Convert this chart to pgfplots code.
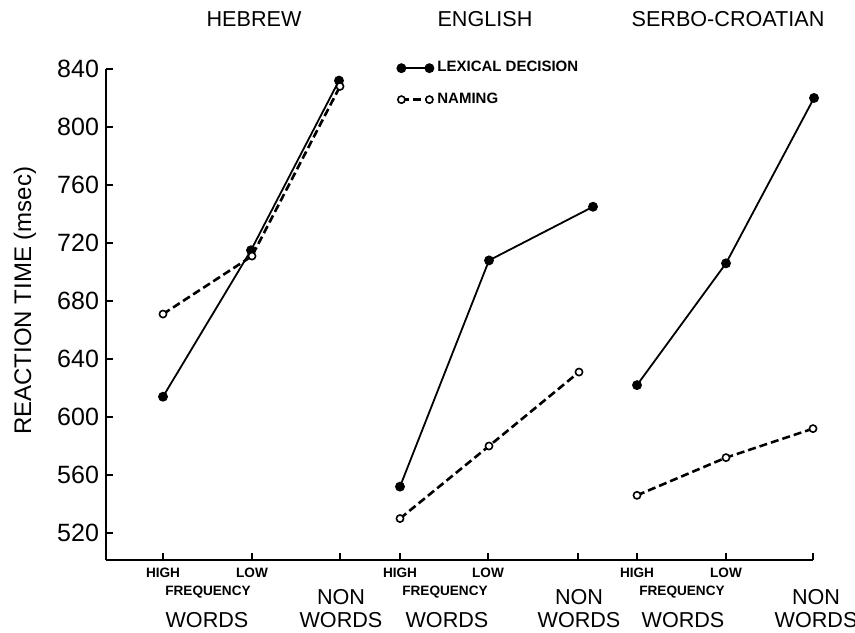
\documentclass[border=0pt]{standalone}
\usepackage{fontspec}
\setmainfont{Liberation Sans}
\usepackage{pgfplots}
\pgfplotsset{compat=1.18}
\usetikzlibrary{calc}
\begin{document}
\begin{tikzpicture}
\begin{axis}[
  name=ax,
  scale only axis, width=353.5pt, height=245.5pt,
  xmin=106, xmax=813, ymin=501.4, ymax=840,
  axis lines*=left,
  axis line style={line width=1.3pt},
  clip=false,
  ytick={520,560,...,840},
  xtick={163,252,340,400,488,578,637,726,813},
  xticklabels={HIGH,LOW,,HIGH,LOW,,HIGH,LOW,},
  x tick label style={font=\bfseries\fontsize{6.8}{7}\selectfont, yshift=-0.5pt},
  y tick label style={font=\fontsize{12.5}{14}\selectfont},
  /pgf/number format/assume math mode=true,
  tick style={line width=0.8pt, black},
  major tick length=3.75pt,
  tick align=inside,
  legend style={draw=none, fill=none, at={(axis cs:391,851)}, anchor=north west,
    font=\bfseries\fontsize{7.5}{9}\selectfont, row sep=5pt,
    /tikz/every odd column/.append style={column sep=0pt}},
  legend cell align=left,
  legend image code/.code={\draw[#1] plot coordinates {(0pt,0pt) (14pt,0pt)};},
]
% Lexical decision
\addplot[black, line width=0.9pt, mark=*, mark size=2pt] coordinates {(163,614) (251,715) (339,832)};
\addlegendentry{LEXICAL DECISION}
\addplot[black, line width=1.3pt, dash pattern=on 4pt off 2pt, mark=*, mark size=1.8pt, mark options={solid, fill=white, line width=0.8pt}] coordinates {(163,671) (252,711) (340,828)};
\addlegendentry{NAMING}
\addplot[black, line width=0.9pt, mark=*, mark size=2pt, forget plot] coordinates {(400,552) (489,708) (593,745)};
\addplot[black, line width=0.9pt, mark=*, mark size=2pt, forget plot] coordinates {(637,622) (726,706) (814,820)};
\addplot[black, line width=1.3pt, dash pattern=on 4pt off 2pt, mark=*, mark size=1.8pt, mark options={solid, fill=white, line width=0.8pt}, forget plot] coordinates {(400,530) (489,580) (579,631)};
\addplot[black, line width=1.3pt, dash pattern=on 4pt off 2pt, mark=*, mark size=1.8pt, mark options={solid, fill=white, line width=0.8pt}, forget plot] coordinates {(637,546) (726,572) (813,592)};
% titles
\node[font=\fontsize{10.8}{12}\selectfont] at (axis cs:254,874.3) {HEBREW};
\node[font=\fontsize{10.8}{12}\selectfont] at (axis cs:485,874.3) {ENGLISH};
\node[font=\fontsize{10.8}{12}\selectfont] at (axis cs:728,874.3) {SERBO-CROATIAN};
% y label
\node[rotate=90, font=\fontsize{12}{14}\selectfont] at (axis cs:25,680.2) {REACTION TIME (msec)};
% category labels
\pgfplotsinvokeforeach{208,445,682}{
  \node[font=\bfseries\fontsize{6.8}{8}\selectfont] at (axis cs:#1,479.5) {FREQUENCY};
}
\pgfplotsinvokeforeach{207,447,683}{
  \node[font=\fontsize{10.8}{12}\selectfont] at (axis cs:#1,460.2) {WORDS};
}
\pgfplotsinvokeforeach{341,579,816}{
  \node[font=\fontsize{10.8}{12}\selectfont] at (axis cs:#1,475.6) {NON};
  \node[font=\fontsize{10.8}{12}\selectfont] at (axis cs:#1,460.2) {WORDS};
}
\end{axis}
\pgfresetboundingbox
\path ($(ax.south west)+(-53pt,-36pt)$) rectangle ($(ax.north east)+(21pt,34.5pt)$);
\end{tikzpicture}
\end{document}
